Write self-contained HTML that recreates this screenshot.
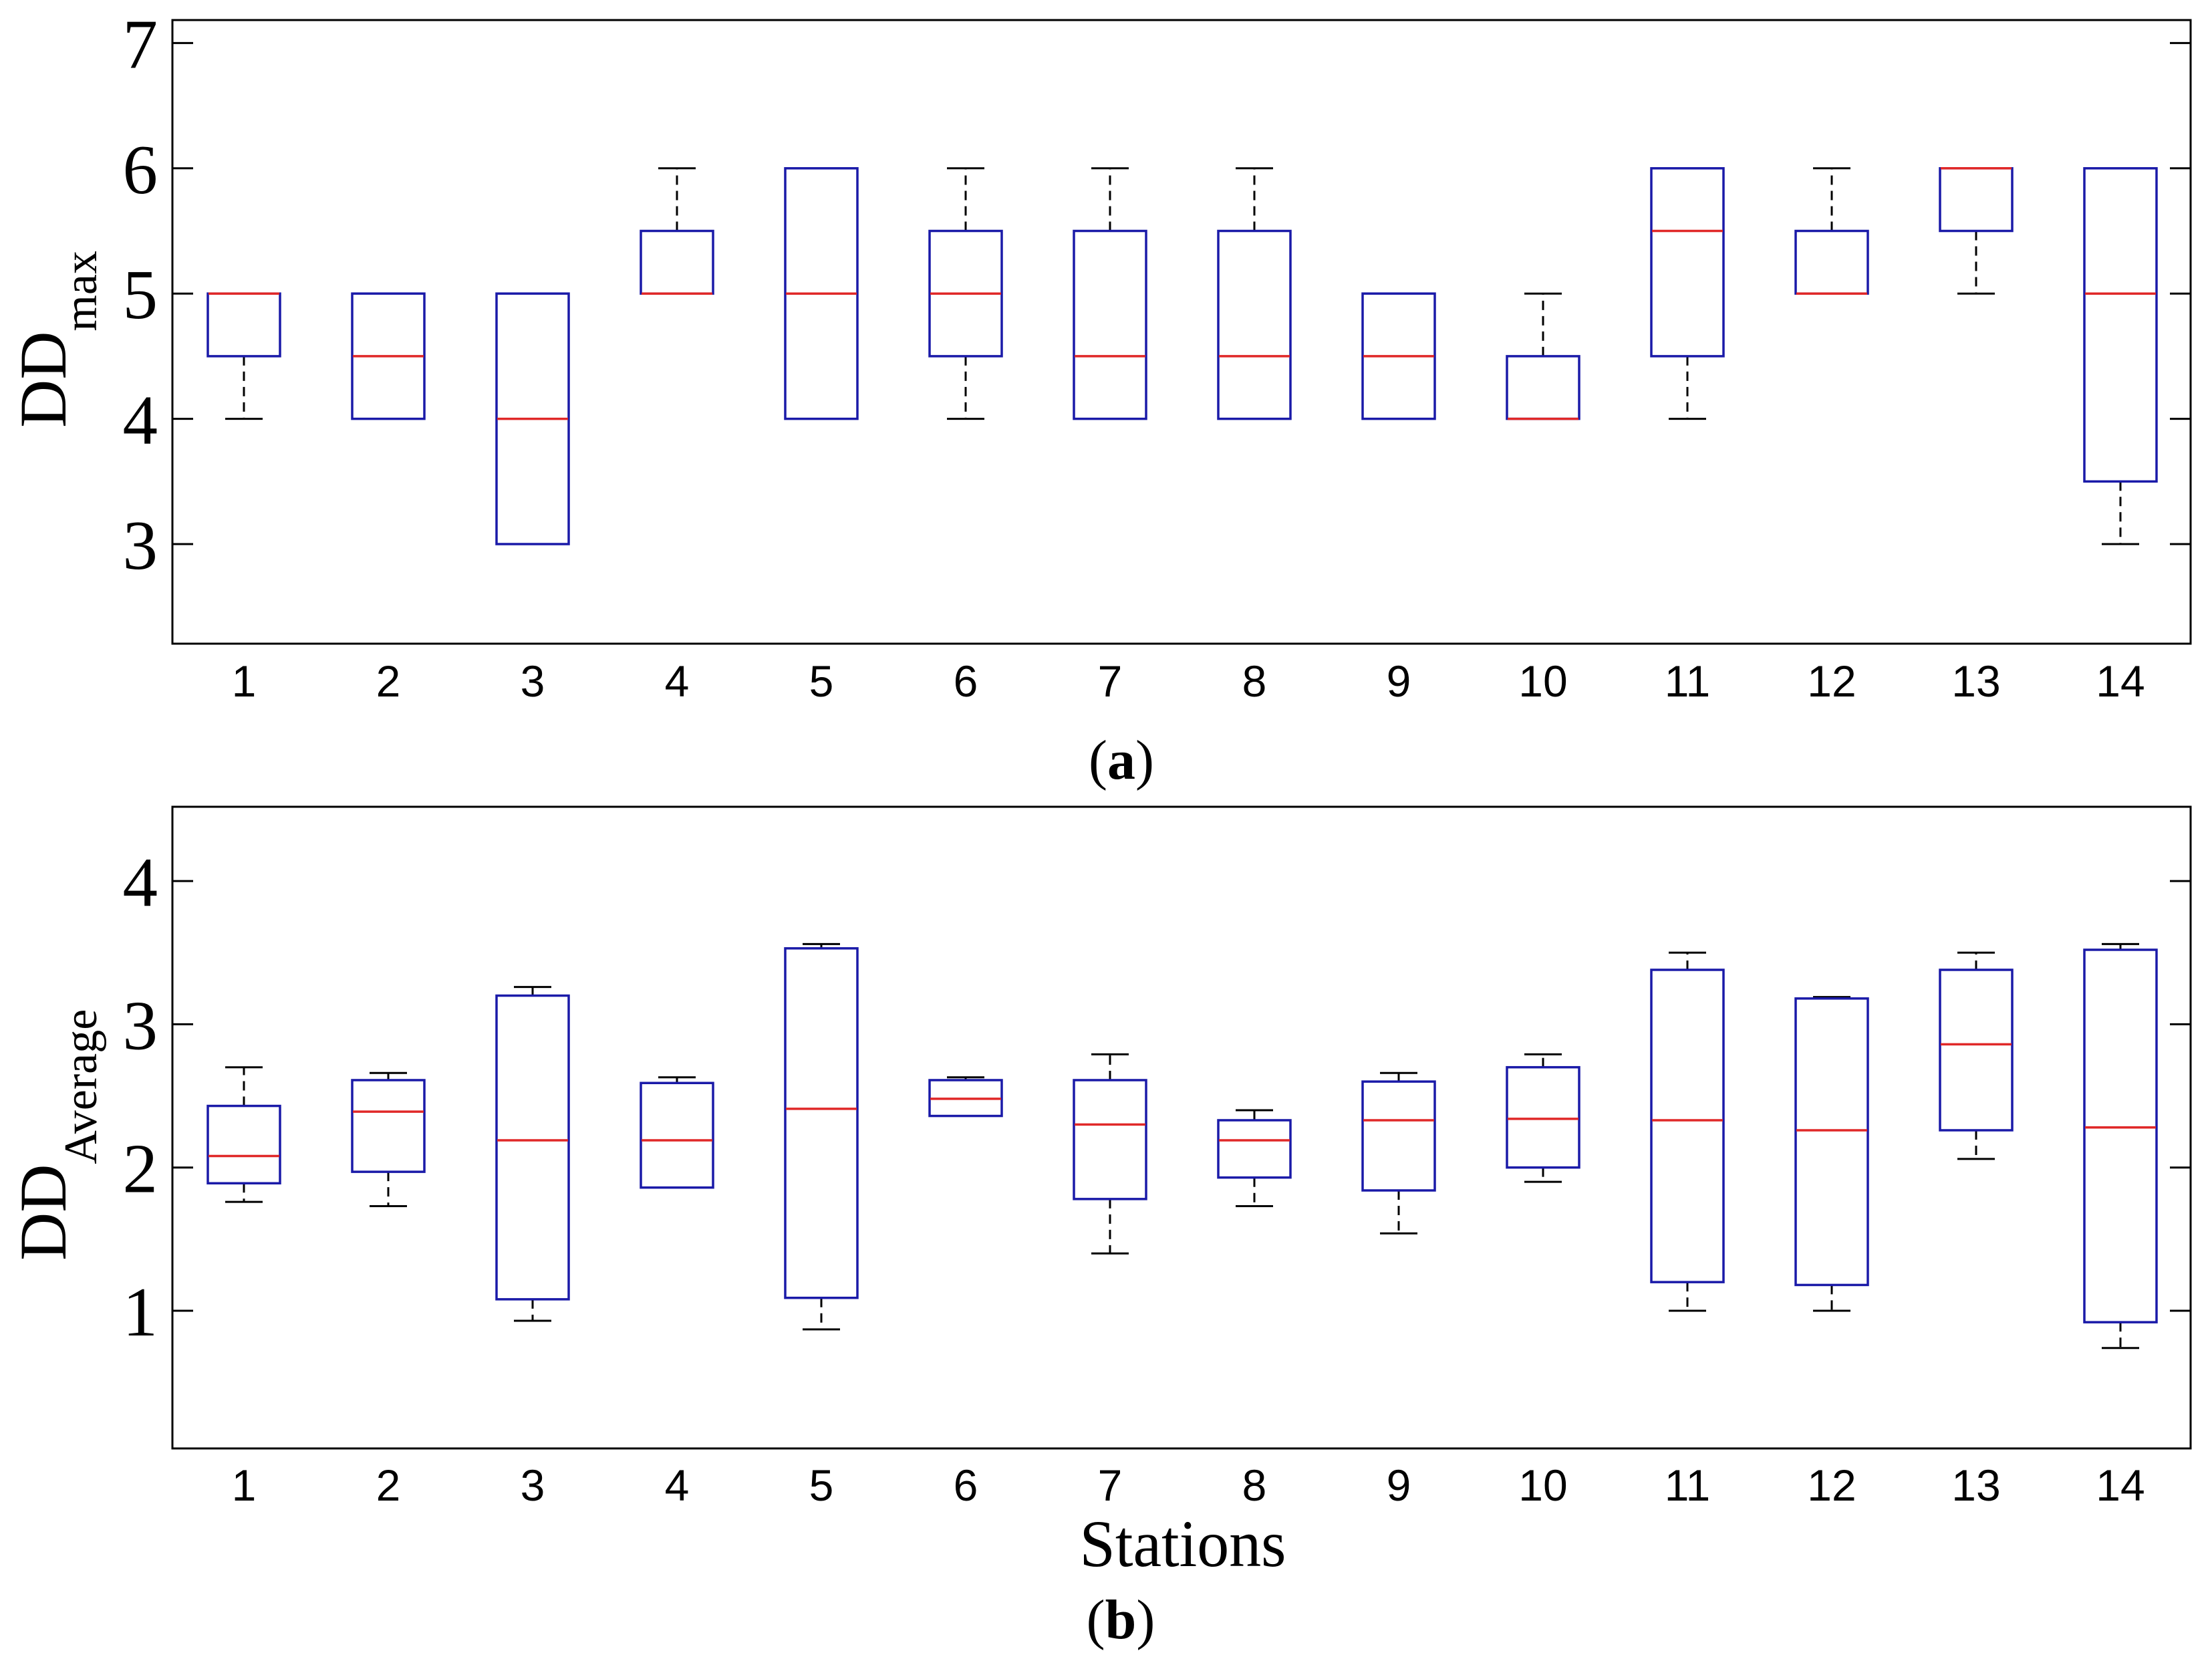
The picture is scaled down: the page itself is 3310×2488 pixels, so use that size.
<!DOCTYPE html>
<html><head><meta charset="utf-8"><style>
html,body{margin:0;padding:0;background:#fff;}
svg{display:block;}
</style></head><body>
<svg id="chart" width="3310" height="2488" viewBox="0 0 3310 2488" xmlns="http://www.w3.org/2000/svg">
<rect width="3310" height="2488" fill="#fff"/>
<g id="pa"></g>
<g id="pb"></g>
<text transform="translate(98,640) rotate(-90)" font-family="Liberation Serif, serif" font-size="100" fill="#000">DD<tspan font-size="70" dy="46">max</tspan></text>
<text transform="translate(98,1886) rotate(-90)" font-family="Liberation Serif, serif" font-size="100" fill="#000">DD<tspan font-size="70" dy="46">Average</tspan></text>
<text x="1678" y="1165" text-anchor="middle" font-family="Liberation Serif, serif" font-size="84" fill="#000">(<tspan font-weight="bold">a</tspan>)</text>
<text x="1770" y="2343" text-anchor="middle" textLength="309" lengthAdjust="spacingAndGlyphs" font-family="Liberation Serif, serif" font-size="100" fill="#000">Stations</text>
<text x="1677" y="2451" text-anchor="middle" font-family="Liberation Serif, serif" font-size="84" fill="#000">(<tspan font-weight="bold">b</tspan>)</text>
</svg>
<script>
const stations = [1,2,3,4,5,6,7,8,9,10,11,12,13,14];
const aLo  = [4,4,3,5,4,4,4,4,4,4,4,5,5,3];
const aQ1  = [4.5,4,3,5,4,4.5,4,4,4,4,4.5,5,5.5,3.5];
const aMed = [5,4.5,4,5,5,5,4.5,4.5,4.5,4,5.5,5,6,5];
const aQ3  = [5,5,5,5.5,6,5.5,5.5,5.5,5,4.5,6,5.5,6,6];
const aHi  = [5,5,5,6,6,6,6,6,5,5,6,6,6,6];
const aTicks = [3,4,5,6,7];
const bLo  = [1.76,1.73,0.93,1.86,0.87,2.36,1.40,1.73,1.54,1.90,1.00,1.00,2.06,0.74];
const bQ1  = [1.89,1.97,1.08,1.86,1.09,2.36,1.78,1.93,1.84,2.00,1.20,1.18,2.26,0.92];
const bMed = [2.08,2.39,2.19,2.19,2.41,2.48,2.30,2.19,2.33,2.34,2.33,2.26,2.86,2.28];
const bQ3  = [2.43,2.61,3.20,2.59,3.53,2.61,2.61,2.33,2.60,2.70,3.38,3.18,3.38,3.52];
const bHi  = [2.70,2.66,3.26,2.63,3.56,2.63,2.79,2.40,2.66,2.79,3.50,3.19,3.50,3.56];
const bTicks = [1,2,3,4];

const NS = "http://www.w3.org/2000/svg";
function mk(tag, attrs, parent){
  const e = document.createElementNS(NS, tag);
  for (const k in attrs) e.setAttribute(k, attrs[k]);
  parent.appendChild(e);
  return e;
}
const L = 258, R = 3278;
const xs = s => 365 + (s - 1) * 216;

function panel(g, top, bottom, yv, ticks, lo, q1, med, q3, hi, labY, tag){
  const frame = mk('rect', {x:L, y:top, width:R-L, height:bottom-top, fill:'none', stroke:'#000', 'stroke-width':3}, g);
  
  
  ticks.forEach(t => {
    const y = yv(t);
    const tl = mk('line', {x1:L, x2:L+31, y1:y, y2:y, stroke:'#000', 'stroke-width':3}, g);
    
    
    const tr = mk('line', {x1:R-31, x2:R, y1:y, y2:y, stroke:'#000', 'stroke-width':3}, g);
    
    
    const tx = mk('text', {x:236, y:y+37, 'text-anchor':'end', 'font-family':'Liberation Serif, serif', 'font-size':105, fill:'#000'}, g);
    tx.textContent = t;
    
    
  });
  stations.forEach((s, i) => {
    const x = xs(s);
    const bg = mk('g', {}, g);
    
    
    if (hi[i] > q3[i]) {
      mk('line', {x1:x, x2:x, y1:yv(q3[i]), y2:yv(hi[i]), stroke:'#000', 'stroke-width':3, 'stroke-dasharray':'14 9'}, bg);
      mk('line', {x1:x-28, x2:x+28, y1:yv(hi[i]), y2:yv(hi[i]), stroke:'#000', 'stroke-width':3}, bg);
    }
    if (lo[i] < q1[i]) {
      mk('line', {x1:x, x2:x, y1:yv(q1[i]), y2:yv(lo[i]), stroke:'#000', 'stroke-width':3, 'stroke-dasharray':'14 9'}, bg);
      mk('line', {x1:x-28, x2:x+28, y1:yv(lo[i]), y2:yv(lo[i]), stroke:'#000', 'stroke-width':3}, bg);
    }
    mk('rect', {x:x-54, y:yv(q3[i]), width:108, height:Math.max(0.5, yv(q1[i]) - yv(q3[i])), fill:'none', stroke:'#1a1aa8', 'stroke-width':3.5}, bg);
    mk('line', {x1:x-53, x2:x+53, y1:yv(med[i]), y2:yv(med[i]), stroke:'#e02828', 'stroke-width':3.5}, bg);
    const xl = mk('text', {x:x, y:labY, 'text-anchor':'middle', 'font-family':'Liberation Sans, Arial, sans-serif', 'font-size':66, fill:'#000'}, g);
    xl.textContent = s;
    
    
  });
}
const yA = v => 814 - (v - 3) * 187.4;
const yB = v => 1961 - (v - 1) * 214.3;
panel(document.getElementById('pa'), 30, 963, yA, aTicks, aLo, aQ1, aMed, aQ3, aHi, 1042, 'a');
panel(document.getElementById('pb'), 1207, 2167, yB, bTicks, bLo, bQ1, bMed, bQ3, bHi, 2245, 'b');
</script>
</body></html>
